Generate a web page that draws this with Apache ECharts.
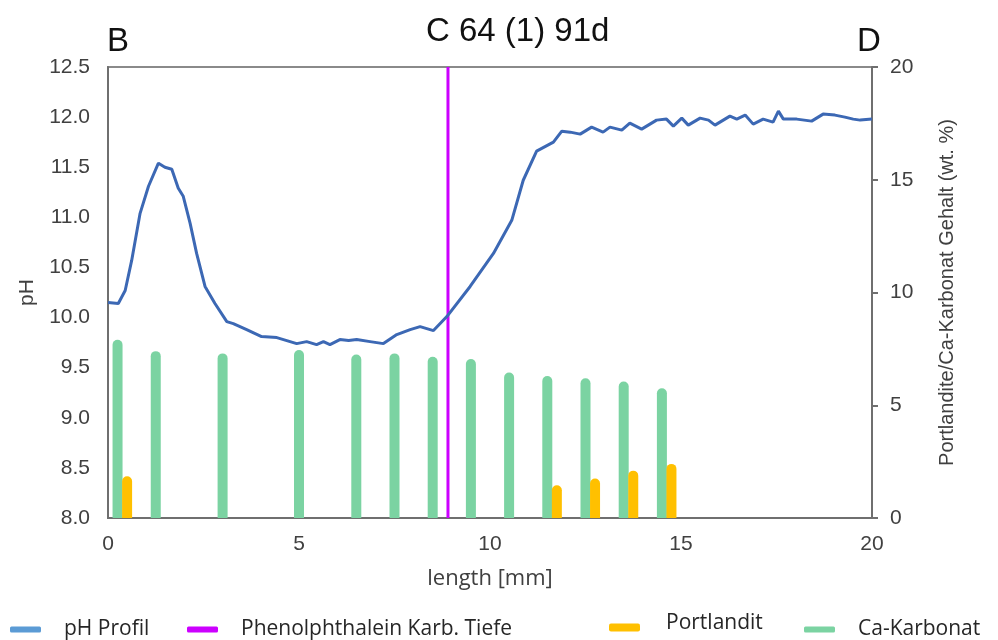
<!DOCTYPE html>
<html>
<head>
<meta charset="utf-8">
<title>C 64 (1) 91d</title>
<script src="https://cdn.jsdelivr.net/npm/echarts@6/dist/echarts.min.js"></script>
<style>
  html, body { margin: 0; padding: 0; background: #ffffff; }
  #chart { width: 998px; height: 640px; }
</style>
</head>
<body>
<div id="chart"></div>
<script>
// pH profile along the sample depth (length in mm, pH)
const phLength = [0.00, 0.27, 0.45, 0.62, 0.84, 1.06, 1.32, 1.49, 1.67, 1.84, 1.97, 2.15, 2.32, 2.54, 2.80,
  3.11, 3.28, 3.63, 4.02, 4.42, 4.94, 5.20, 5.46, 5.64, 5.81, 6.07, 6.30, 6.51, 6.86, 7.21, 7.56, 7.91,
  8.17, 8.52, 8.87, 9.48, 10.09, 10.57, 10.87, 11.22, 11.66, 11.88, 12.10, 12.36, 12.66, 12.96, 13.14,
  13.45, 13.66, 13.97, 14.36, 14.62, 14.80, 15.02, 15.19, 15.50, 15.72, 15.89, 16.28, 16.46, 16.68,
  16.89, 17.15, 17.41, 17.55, 17.68, 18.03, 18.42, 18.72, 19.03, 19.29, 19.51, 19.69, 20.00];
const phValue = [10.15, 10.14, 10.27, 10.57, 11.04, 11.31, 11.54, 11.50, 11.48, 11.29, 11.21, 10.94, 10.64, 10.31, 10.14,
  9.96, 9.94, 9.88, 9.81, 9.80, 9.74, 9.76, 9.73, 9.76, 9.73, 9.78, 9.77, 9.78, 9.76, 9.74, 9.83, 9.88,
  9.91, 9.87, 10.01, 10.31, 10.64, 10.97, 11.37, 11.66, 11.75, 11.86, 11.85, 11.83, 11.90, 11.85, 11.90,
  11.87, 11.94, 11.88, 11.97, 11.98, 11.91, 11.99, 11.92, 11.99, 11.97, 11.92, 12.01, 11.98, 12.02,
  11.93, 11.98, 11.95, 12.06, 11.98, 11.98, 11.96, 12.03, 12.02, 12.00, 11.98, 11.97, 11.98];

// Phenolphthalein carbonation depth (mm)
const phenolDepth = 8.9;

// Ca-carbonate content (wt. %) at sampled depths
const carbonatLength = [0.25, 1.25, 3.0, 5.0, 6.5, 7.5, 8.5, 9.5, 10.5, 11.5, 12.5, 13.5, 14.5];
const carbonatValue = [7.9, 7.4, 7.3, 7.45, 7.25, 7.3, 7.15, 7.05, 6.45, 6.3, 6.2, 6.05, 5.75];

// Portlandite content (wt. %)
const portlanditLength = [0.5, 11.75, 12.75, 13.75, 14.75];
const portlanditValue = [1.85, 1.45, 1.75, 2.1, 2.4];

// Axis ranges
const xTicks = { min: 0, max: 20, interval: 5 };
const phTicks = { min: 8, max: 12.5, interval: 0.5 };
const wtTicks = { min: 0, max: 20, interval: 5 };

const zip = (xs, ys) => xs.map((x, i) => [x, ys[i]]);

const axisColor = '#6f6f6f';
const labelColor = '#404040';
const sans = 'Liberation Sans, Arial, sans-serif';
const uiSans = 'Open Sans, Noto Sans, sans-serif';

const chart = echarts.init(document.getElementById('chart'), null, { renderer: 'canvas' });

function legendAt(name, left, top, extra) {
  return Object.assign({
    data: [name],
    left: left,
    top: top,
    orient: 'horizontal',
    padding: 0,
    icon: 'roundRect',
    itemWidth: 31,
    itemHeight: 6,
    selectedMode: false,
    textStyle: { fontFamily: uiSans, fontSize: 21, color: '#262626', padding: [0, 0, 0, 18] }
  }, extra || {});
}

chart.setOption({
  animation: false,
  backgroundColor: '#ffffff',
  title: {
    text: 'C 64 (1) 91d',
    left: 421,
    top: 10,
    textStyle: { fontFamily: sans, fontSize: 33, fontWeight: 'normal', color: '#111111' }
  },
  graphic: [
    { type: 'text', left: 107, top: 25, style: { text: 'B', font: '33px ' + sans, fill: '#111111' } },
    { type: 'text', left: 857, top: 25, style: { text: 'D', font: '33px ' + sans, fill: '#111111' } }
  ],
  legend: [
    legendAt('pH Profil', 10, 619, { data: [{ name: 'pH Profil', itemStyle: { color: '#5B9BD5' } }] }),
    legendAt('Phenolphthalein Karb. Tiefe', 187, 619),
    legendAt('Portlandit', 609, 613, {
      itemHeight: 8,
      formatter: '{t|{name}}',
      textStyle: {
        padding: [0, 0, 0, 21],
        rich: { t: { fontFamily: uiSans, fontSize: 21, color: '#262626', padding: [0, 0, 8, 0] } }
      }
    }),
    legendAt('Ca-Karbonat', 804, 619)
  ],
  grid: {
    left: 108,
    right: 126,
    top: 67,
    bottom: 122,
    show: true,
    borderColor: '#8a8a8a',
    borderWidth: 2,
    backgroundColor: 'transparent'
  },
  xAxis: {
    type: 'value',
    min: xTicks.min,
    max: xTicks.max,
    interval: xTicks.interval,
    name: 'length [mm]',
    nameLocation: 'middle',
    nameGap: 50,
    nameTextStyle: { fontFamily: uiSans, fontSize: 22, color: labelColor },
    axisLine: { show: true, onZero: false, lineStyle: { color: axisColor, width: 2 } },
    axisTick: { show: false },
    splitLine: { show: false },
    axisLabel: { fontFamily: sans, fontSize: 21, color: labelColor, margin: 16 }
  },
  yAxis: [
    {
      type: 'value',
      min: phTicks.min,
      max: phTicks.max,
      interval: phTicks.interval,
      name: 'pH',
      nameLocation: 'middle',
      nameGap: 70,
      nameRotate: 90,
      nameTextStyle: { fontFamily: sans, fontSize: 21, color: labelColor },
      axisLine: { show: true, onZero: false, lineStyle: { color: axisColor, width: 2 } },
      axisTick: { show: false },
      splitLine: { show: false },
      axisLabel: {
        fontFamily: sans, fontSize: 21, color: labelColor, margin: 18,
        formatter: v => v.toFixed(1)
      }
    },
    {
      type: 'value',
      position: 'right',
      min: wtTicks.min,
      max: wtTicks.max,
      interval: wtTicks.interval,
      name: 'Portlandite/Ca-Karbonat Gehalt (wt. %)',
      nameLocation: 'middle',
      nameGap: 65,
      nameRotate: 90,
      nameTextStyle: { fontFamily: sans, fontSize: 20, color: labelColor },
      axisLine: { show: true, onZero: false, lineStyle: { color: axisColor, width: 2 } },
      axisTick: { show: true, inside: false, length: 6, lineStyle: { color: axisColor, width: 2 } },
      splitLine: { show: false },
      axisLabel: { fontFamily: sans, fontSize: 21, color: labelColor, margin: 18 }
    }
  ],
  series: [
    {
      name: 'Ca-Karbonat',
      type: 'bar',
      yAxisIndex: 1,
      barWidth: 10,
      barGap: '-100%',
      itemStyle: { color: '#7BD3A2', borderRadius: [5, 5, 0, 0] },
      data: zip(carbonatLength, carbonatValue),
      z: 2
    },
    {
      name: 'Portlandit',
      type: 'bar',
      yAxisIndex: 1,
      barWidth: 10,
      barGap: '-100%',
      itemStyle: { color: '#FFC000', borderRadius: [5, 5, 0, 0] },
      data: zip(portlanditLength, portlanditValue),
      z: 2
    },
    {
      name: 'pH Profil',
      type: 'line',
      yAxisIndex: 0,
      showSymbol: false,
      symbol: 'none',
      lineStyle: { color: '#3C68B4', width: 3 },
      itemStyle: { color: '#3C68B4' },
      data: zip(phLength, phValue),
      z: 4
    },
    {
      name: 'Phenolphthalein Karb. Tiefe',
      type: 'line',
      yAxisIndex: 0,
      showSymbol: false,
      symbol: 'none',
      lineStyle: { color: '#CC00FF', width: 3 },
      itemStyle: { color: '#CC00FF' },
      data: [[phenolDepth, phTicks.min], [phenolDepth, phTicks.max]],
      z: 3
    }
  ]
});
</script>
</body>
</html>
